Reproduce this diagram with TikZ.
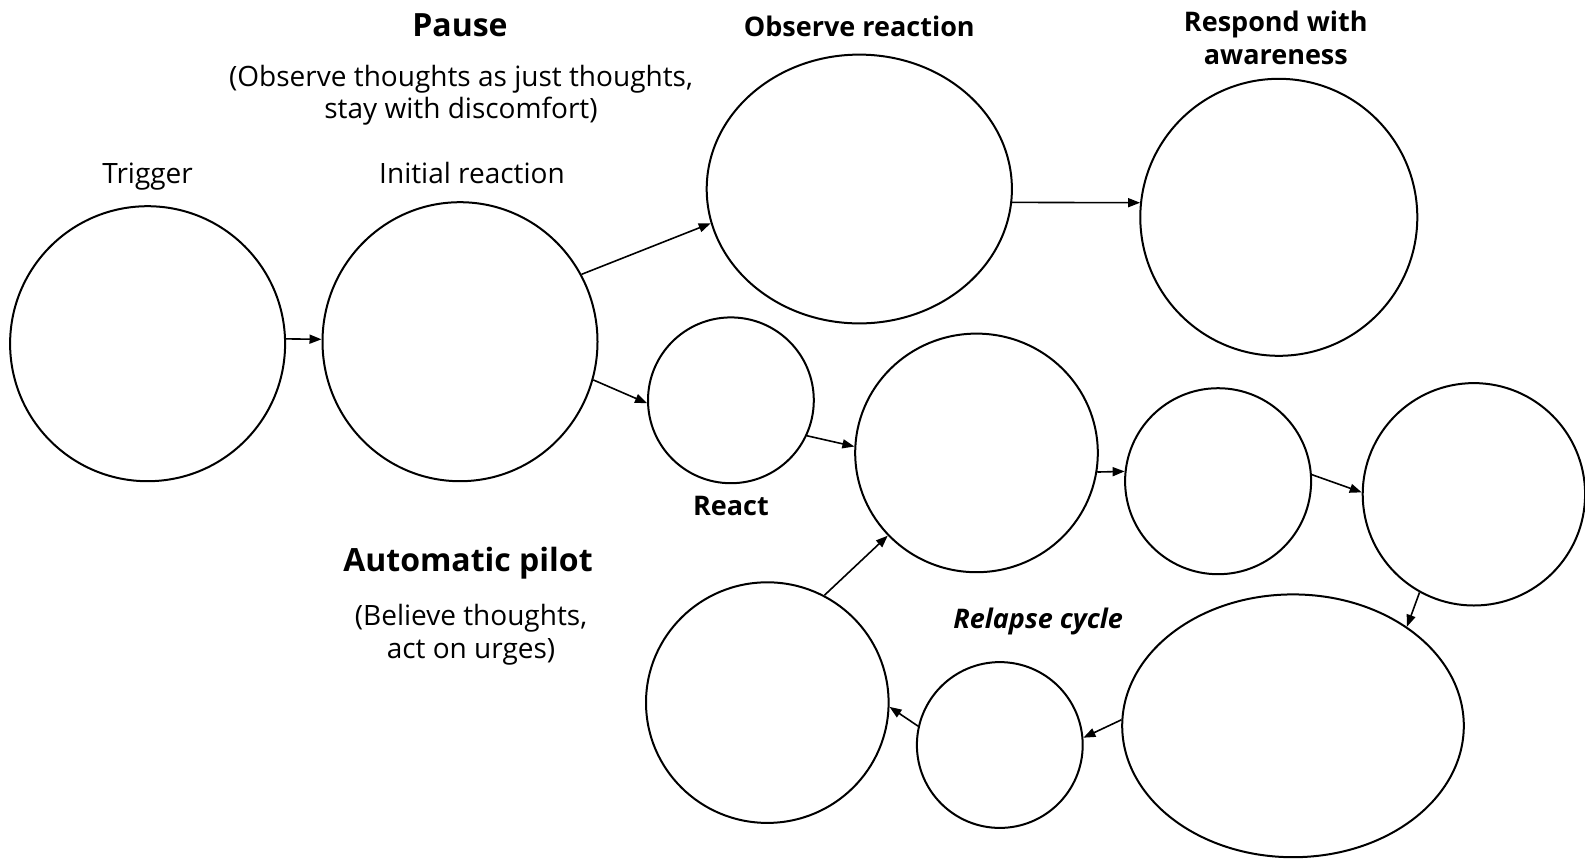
\documentclass[tikz,border=0pt]{standalone}
\usepackage{fontspec}
\setmainfont{Open Sans}
\usetikzlibrary{arrows.meta,shapes.geometric}

\begin{document}
\begin{tikzpicture}[x=0.5pt,y=-0.5pt,
    blob/.style={draw, line width=1pt, ellipse, inner sep=0pt},
    link/.style={-{Triangle[length=6pt,width=4.5pt]}, line width=0.8pt},
    lbl/.style={font=\fontsize{14}{16}\selectfont, align=center},
    head/.style={font=\fontsize{13.5}{16.5}\selectfont\bfseries, align=center},
    big/.style={font=\fontsize{16}{19}\selectfont\bfseries}]
    \useasboundingbox (0,0) rectangle (1585,858);
    % circles
    \node[blob, minimum width=137.5pt, minimum height=137.5pt] (trig) at (147.6,343.7) {};
    \node[blob, minimum width=137.5pt, minimum height=139.5pt] (init) at (460.0,341.7) {};
    \node[blob, minimum width=152.6pt, minimum height=134.4pt] (obs) at (859.3,189.0) {};
    \node[blob, minimum width=138.5pt, minimum height=138.5pt] (resp) at (1278.8,217.3) {};
    \node[blob, minimum width=82.9pt, minimum height=82.9pt] (react) at (730.9,400.3) {};
    \node[blob, minimum width=121.3pt, minimum height=119.3pt] (mid) at (976.5,452.9) {};
    \node[blob, minimum width=93pt, minimum height=93pt] (cyc1) at (1218.1,481.2) {};
    \node[blob, minimum width=111.2pt, minimum height=111.2pt] (cyc2) at (1473.9,494.3) {};
    \node[blob, minimum width=170.8pt, minimum height=131.4pt] (cyc3) at (1293.0,725.8) {};
    \node[blob, minimum width=82.9pt, minimum height=82.9pt] (cyc4) at (999.8,745.0) {};
    \node[blob, minimum width=121.3pt, minimum height=120.3pt] (cyc5) at (767.3,702.6) {};
    % labels
    \node[big] (pause) at (460,25.5) {Pause};
    \node[lbl] (pausetxt) at (461,95.5) {(Observe thoughts as just thoughts,\\stay with discomfort)};
    \node[lbl] (trigtxt) at (147.6,176.9) {Trigger};
    \node[lbl] (inittxt) at (472,172.9) {Initial reaction};
    \node[head] (obstxt) at (859.3,26.3) {Observe reaction};
    \node[head] (resptxt) at (1275.8,37.9) {Respond with\\awareness};
    \node[head] (reacttxt) at (730.9,505.5) {React};
    \node[big] (auto) at (468,563) {Automatic pilot};
    \node[lbl, font=\fontsize{14}{16.7}\selectfont] (autotxt) at (471,634.5) {(Believe thoughts,\\act on urges)};
    \node[head, font=\fontsize{13.5}{16.5}\selectfont\bfseries\itshape] (cyctxt) at (1038.2,621.7) {Relapse cycle};
    % arrows
    \draw[link] (trig.2) -- (init.179);
    \draw[link] (init.29) -- (obs.193);
    \draw[link] (init.-16) -- (react.182);
    \draw[link] (obs.-5) -- (resp.174);
    \draw[link] (react.-25) -- (mid.177);
    \draw[link] (mid.-9) -- (cyc1.174);
    \draw[link] (cyc1.4) -- (cyc2.179);
    \draw[link] (cyc2.241) -- (cyc3.41.5);
    \draw[link] (cyc3.178.7) -- (cyc4.5.5);
    \draw[link] (cyc4.167) -- (cyc5.-2.4);
    \draw[link] (cyc5.62.4) -- (mid.223.7);
\end{tikzpicture}
\end{document}
